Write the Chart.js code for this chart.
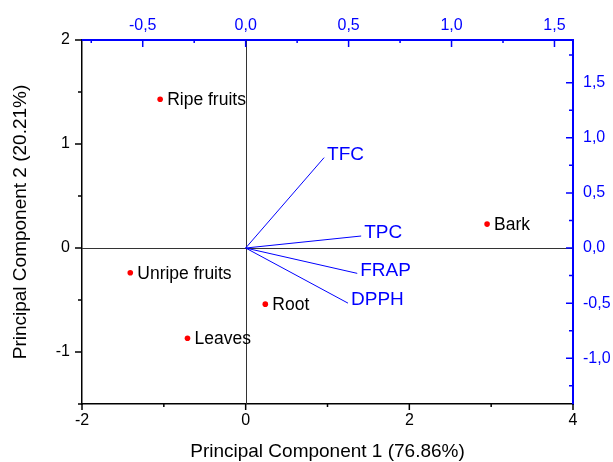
<!DOCTYPE html>
<html>
<head>
<meta charset="utf-8">
<script src="https://cdn.jsdelivr.net/npm/chart.js@4/dist/chart.umd.min.js"></script>
<style>
html,body{margin:0;padding:0;background:#fff;}
#wrap{width:613px;height:462px;}
</style>
</head>
<body>
<div id="wrap"><canvas id="c" width="613" height="462"></canvas></div>
<script>
// Sample scores (bottom / left axes)
const sampleNames = ['Ripe fruits', 'Unripe fruits', 'Leaves', 'Root', 'Bark'];
const pc1Scores = [-1.045, -1.41, -0.711, 0.24, 2.95];
const pc2Scores = [1.43, -0.238, -0.868, -0.54, 0.23];
// Variable loadings (top / right axes)
const variableNames = ['TFC', 'TPC', 'FRAP', 'DPPH'];
const pc1Loadings = [0.381, 0.561, 0.542, 0.497];
const pc2Loadings = [0.82, 0.109, -0.23, -0.50];
// Axis ticks
const bottomTicks = [-2, -1, 0, 1, 2, 3, 4];
const bottomLabels = [-2, 0, 2, 4];
const leftTicks = [-1.5, -1, -0.5, 0, 0.5, 1, 1.5, 2];
const leftLabels = [-1, 0, 1, 2];
const topTicks = [-0.75, -0.5, -0.25, 0, 0.25, 0.5, 0.75, 1, 1.25, 1.5];
const topLabels = [-0.5, 0, 0.5, 1, 1.5];
const rightTicks = [-1.25, -1, -0.75, -0.5, -0.25, 0, 0.25, 0.5, 0.75, 1, 1.25, 1.5, 1.75];
const rightLabels = [-1, -0.5, 0, 0.5, 1, 1.5];

const BLUE = '#0000ff';
const FONT = "'Liberation Sans', Arial, sans-serif";

function has(arr, v) { return arr.some(a => Math.abs(a - v) < 1e-9); }
function comma(v) { return v.toFixed(1).replace('.', ','); }

const datasets = [{
  label: 'scores',
  data: pc1Scores.map((x, i) => ({x: x, y: pc2Scores[i]})),
  xAxisID: 'x', yAxisID: 'y',
  pointRadius: 2.8, pointBackgroundColor: '#ff0000', pointBorderWidth: 0,
  showLine: false
}];
variableNames.forEach((n, i) => {
  datasets.push({
    label: n,
    data: [{x: 0, y: 0}, {x: pc1Loadings[i], y: pc2Loadings[i]}],
    xAxisID: 'x2', yAxisID: 'y2',
    showLine: true, borderColor: BLUE, borderWidth: 1, pointRadius: 0
  });
});

const overlay = {
  id: 'overlay',
  beforeDatasetsDraw(chart) {
    const ctx = chart.ctx, a = chart.chartArea;
    const sx = chart.scales.x, sy = chart.scales.y;
    ctx.save();
    ctx.strokeStyle = '#333';
    ctx.lineWidth = 1;
    const x0 = Math.round(sx.getPixelForValue(0)) + 0.5;
    const y0 = Math.round(sy.getPixelForValue(0)) + 0.5;
    ctx.beginPath();
    ctx.moveTo(x0, a.top); ctx.lineTo(x0, a.bottom);
    ctx.moveTo(a.left, y0); ctx.lineTo(a.right, y0);
    ctx.stroke();
    ctx.restore();
  },
  afterDraw(chart) {
    const ctx = chart.ctx, a = chart.chartArea;
    const s = chart.scales;
    ctx.save();
    ctx.lineWidth = 1.5;
    ctx.strokeStyle = '#000';
    ctx.beginPath();
    bottomTicks.forEach(v => {
      const p = s.x.getPixelForValue(v);
      const L = has(bottomLabels, v) ? 6 : 3;
      ctx.moveTo(p, a.bottom); ctx.lineTo(p, a.bottom + L);
    });
    leftTicks.forEach(v => {
      const p = s.y.getPixelForValue(v);
      const L = has(leftLabels, v) ? 7 : 4;
      ctx.moveTo(a.left, p); ctx.lineTo(a.left - L, p);
    });
    ctx.stroke();
    ctx.strokeStyle = BLUE;
    ctx.beginPath();
    topTicks.forEach(v => {
      const p = s.x2.getPixelForValue(v);
      const L = has(topLabels, v) ? 7 : 3;
      ctx.moveTo(p, a.top); ctx.lineTo(p, a.top + L);
    });
    rightTicks.forEach(v => {
      const p = s.y2.getPixelForValue(v);
      const L = has(rightLabels, v) ? 7 : 4;
      ctx.moveTo(a.right, p); ctx.lineTo(a.right - L, p);
    });
    ctx.stroke();

    ctx.textAlign = 'left';
    ctx.textBaseline = 'middle';
    // sample labels
    ctx.font = '17.5px ' + FONT;
    ctx.fillStyle = '#000';
    sampleNames.forEach((n, i) => {
      const px = s.x.getPixelForValue(pc1Scores[i]);
      const py = s.y.getPixelForValue(pc2Scores[i]);
      ctx.fillText(n, px + 7, py + 1);
    });
    // variable labels
    ctx.font = '19px ' + FONT;
    ctx.fillStyle = BLUE;
    variableNames.forEach((n, i) => {
      const px = s.x2.getPixelForValue(pc1Loadings[i]);
      const py = s.y2.getPixelForValue(pc2Loadings[i]);
      ctx.fillText(n, px + 3, py - 3);
    });
    ctx.restore();
  }
};

function fixed(size) {
  return function(scale) {
    if (scale.isHorizontal()) scale.height = size; else scale.width = size;
  };
}
function setTicks(list) {
  return function(scale) { scale.ticks = list.map(v => ({value: v})); };
}

new Chart(document.getElementById('c'), {
  type: 'scatter',
  data: {datasets: datasets},
  options: {
    responsive: false,
    animation: false,
    layout: {padding: 0},
    plugins: {legend: {display: false}, tooltip: {enabled: false}},
    scales: {
      x: {
        type: 'linear', position: 'bottom', min: -2, max: 4,
        afterBuildTicks: setTicks(bottomTicks),
        afterFit: fixed(58),
        grid: {display: true, drawOnChartArea: false, drawTicks: true, tickLength: 6, color: 'rgba(0,0,0,0)'},
        border: {display: true, color: '#000', width: 1.5},
        ticks: {
          color: '#000', font: {family: FONT, size: 16}, padding: 1, maxRotation: 0, autoSkip: false,
          callback: v => has(bottomLabels, v) ? String(v) : ''
        },
        title: {display: true, text: 'Principal Component 1 (76.86%)', color: '#000',
          font: {family: FONT, size: 19}, padding: {top: 0, bottom: -1}}
      },
      y: {
        type: 'linear', position: 'left', min: -1.5, max: 2,
        afterBuildTicks: setTicks(leftTicks),
        afterFit: fixed(82),
        grid: {display: true, drawOnChartArea: false, drawTicks: true, tickLength: 7, color: 'rgba(0,0,0,0)'},
        border: {display: true, color: '#000', width: 1.5},
        ticks: {
          color: '#000', font: {family: FONT, size: 16}, padding: 5, autoSkip: false,
          callback: v => has(leftLabels, v) ? String(v) : ''
        },
        title: {display: true, text: 'Principal Component 2 (20.21%)', color: '#000',
          font: {family: FONT, size: 19}, padding: {top: 9, bottom: 0}}
      },
      x2: {
        type: 'linear', position: 'top', min: -0.795, max: 1.59,
        afterBuildTicks: setTicks(topTicks),
        afterFit: fixed(40),
        grid: {display: true, drawOnChartArea: false, drawTicks: true, tickLength: 7, color: 'rgba(0,0,0,0)'},
        border: {display: true, color: BLUE, width: 2},
        ticks: {
          color: BLUE, font: {family: FONT, size: 16}, padding: -2, maxRotation: 0, autoSkip: false,
          callback: v => has(topLabels, v) ? comma(v) : ''
        }
      },
      y2: {
        type: 'linear', position: 'right', min: -1.415, max: 1.887,
        afterBuildTicks: setTicks(rightTicks),
        afterFit: fixed(40),
        grid: {display: true, drawOnChartArea: false, drawTicks: true, tickLength: 7, color: 'rgba(0,0,0,0)'},
        border: {display: true, color: BLUE, width: 2},
        ticks: {
          color: BLUE, font: {family: FONT, size: 16}, padding: 3, autoSkip: false,
          callback: v => has(rightLabels, v) ? comma(v) : ''
        }
      }
    }
  },
  plugins: [overlay]
});
</script>
</body>
</html>
